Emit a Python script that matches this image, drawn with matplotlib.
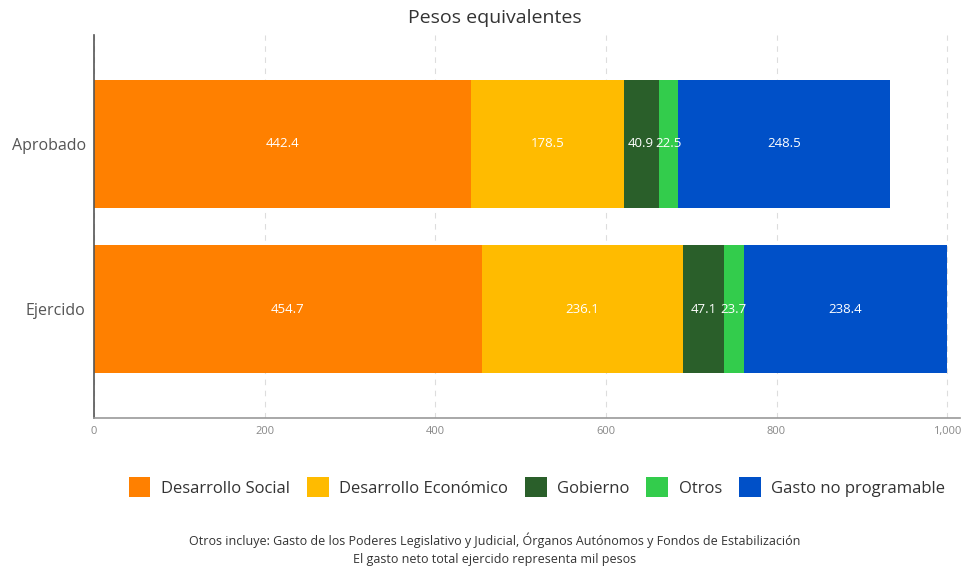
import matplotlib
matplotlib.use("Agg")
import matplotlib.pyplot as plt
from matplotlib.patches import Patch
from matplotlib.ticker import FuncFormatter

plt.rcParams['font.family'] = ['Open Sans', 'DejaVu Sans']

categories = ["Aprobado", "Ejercido"]
series_names = ["Desarrollo Social", "Desarrollo Económico", "Gobierno", "Otros", "Gasto no programable"]
desarrollo_social = [442.4, 454.7]
desarrollo_economico = [178.5, 236.1]
gobierno = [40.9, 47.1]
otros = [22.5, 23.7]
gasto_no_programable = [248.5, 238.4]
colors = ["#FF8000", "#FFBB00", "#2A5F2A", "#33CC4C", "#0050C8"]
xticks = [0, 200, 400, 600, 800, 1000]

values = [desarrollo_social, desarrollo_economico, gobierno, otros, gasto_no_programable]

fig = plt.figure(figsize=(9.68, 5.70), dpi=100)
ax = fig.add_axes([94/968, 1-418/570, (960-94)/968, (418-35)/570])

y = list(range(len(categories)))
left = [0.0] * len(categories)
for name, vals, col in zip(series_names, values, colors):
    ax.barh(y, vals, left=left, height=0.77, color=col, label=name, zorder=2)
    for i, v in enumerate(vals):
        ax.text(left[i] + v / 2, y[i], f"{v:.1f}", ha="center", va="center",
                color="white", fontsize=9.5, zorder=3)
    left = [l + v for l, v in zip(left, vals)]

ax.set_ylim(1.66, -0.66)
ax.set_xlim(0, 1015)
ax.set_yticks(y)
ax.set_yticklabels(categories, fontsize=11.5, color="#555555")
ax.set_xticks(xticks)
ax.xaxis.set_major_formatter(FuncFormatter(lambda v, p: f"{int(v):,}"))
ax.tick_params(axis="x", labelsize=8, colors="#888888", length=0, pad=6)
ax.tick_params(axis="y", length=0, pad=6)
ax.grid(axis="x", color="#dddddd", linestyle=(0, (5, 5)), linewidth=0.8, zorder=0)
for s in ["top", "right"]:
    ax.spines[s].set_visible(False)
ax.spines["left"].set_color("#555555")
ax.spines["left"].set_linewidth(1.2)
ax.spines["bottom"].set_color("#999999")
ax.spines["bottom"].set_linewidth(1.2)

fig.text(495/968, 1-18/570, "Pesos equivalentes", ha="center", va="center", fontsize=14, color="#333333")

handles = [Patch(facecolor=c, label=n) for n, c in zip(series_names, colors)]
fig.legend(handles=handles, loc="center", bbox_to_anchor=(537/968, 1-487/570), ncol=5,
           frameon=False, fontsize=12, handlelength=1.3, handleheight=1.45,
           columnspacing=1.0, handletextpad=0.65, labelcolor="#333333")

fig.text(495/968, 1-540/570,
         "Otros incluye: Gasto de los Poderes Legislativo y Judicial, Órganos Autónomos y Fondos de Estabilización",
         ha="center", va="center", fontsize=9, color="#333333")
fig.text(495/968, 1-560/570, "El gasto neto total ejercido representa mil pesos",
         ha="center", va="center", fontsize=9, color="#333333")

fig.savefig("out.png", dpi=100)
